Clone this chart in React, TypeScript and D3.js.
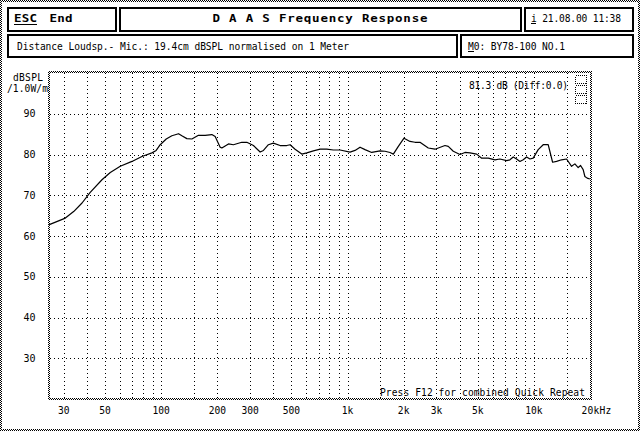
import React from 'react';
import * as d3 from 'd3';

// Measured frequency response (Hz, dB SPL)
const freqHz = [
  25.1, 30.6, 33.9, 37.6, 41.6, 48.1, 53.3, 60.3, 69.7, 78.8,
  89.2, 94.0, 98.8, 106.4, 114.1, 123.9, 129.1, 137.3, 146.1, 158.5,
  172.1, 187.0, 194.8, 207.2, 211.6, 229.6, 244.1, 270.8, 288.0, 312.6,
  339.6, 353.7, 376.1, 400.0, 434.5, 472.0, 491.6, 523.0, 568.0, 604.1,
  655.7, 712.4, 773.7, 839.1, 911.7, 1031, 1097, 1167, 1241, 1348,
  1494, 1589, 1690, 1761, 1873, 2009, 2163, 2301, 2447, 2712,
  2946, 3333, 3471, 3693, 4010, 4266, 4538, 4930, 5244, 5689,
  6179, 6572, 7139, 7435, 7745, 8076, 8412, 8763, 9140, 9520,
  9913, 10545, 11217, 11931, 12600, 13232, 14077, 14974, 15928, 16591,
  17281, 17802, 18381, 18774, 19313, 19970,
];
const splDb = [
  62.8, 64.4, 66.0, 68.1, 70.7, 73.8, 75.6, 77.1, 78.3, 79.5,
  80.4, 81.0, 82.4, 83.8, 84.6, 85.1, 84.6, 83.9, 83.8, 84.7,
  84.7, 84.9, 84.4, 81.8, 81.6, 82.6, 82.4, 83.0, 83.0, 82.2,
  80.6, 81.0, 82.4, 82.8, 82.2, 82.2, 82.4, 81.3, 80.1, 80.4,
  80.9, 81.3, 81.3, 81.1, 81.1, 80.6, 81.0, 81.8, 81.2, 80.5,
  80.9, 80.8, 80.5, 80.1, 82.0, 84.0, 83.2, 83.0, 83.0, 81.6,
  81.3, 82.2, 82.0, 80.8, 80.0, 80.5, 80.4, 80.1, 79.1, 79.1,
  78.7, 78.9, 78.5, 78.7, 79.4, 78.9, 78.3, 78.7, 79.4, 78.9,
  79.1, 81.2, 82.4, 82.4, 78.1, 78.3, 78.7, 78.9, 77.1, 77.7,
  76.8, 77.3, 76.3, 74.6, 74.2, 74.0,
];

const yTicks = [30, 40, 50, 60, 70, 80, 90];
const gridFreqs = [30, 40, 50, 60, 70, 80, 90, 100, 150, 200, 300, 400, 500, 600, 700, 800, 900,
  1000, 1500, 2000, 3000, 4000, 5000, 6000, 7000, 8000, 9000, 10000, 15000];
const xTickValues = [30, 50, 100, 200, 300, 500, 1000, 2000, 3000, 5000, 10000];
const xTickLabels = ['30', '50', '100', '200', '300', '500', '1k', '2k', '3k', '5k', '10k'];

const MONO = '"DejaVu Sans Mono", "Liberation Mono", monospace';

export default function App() {
  const x = d3.scaleLog().domain([25, 20000]).range([49, 590]);
  const y = d3.scaleLinear().domain([20, 100]).range([399, 73]);
  const line = d3.line<number>()
    .x((_, i) => x(freqHz[i]))
    .y((d) => y(d))
    .curve(d3.curveLinear);
  const px = (v: number) => Math.round(v) + 0.5;

  const box = (bx: number, by: number, bw: number, bh: number, key: string) => (
    <rect key={key} x={bx + 1} y={by + 1} width={bw - 2} height={bh - 2} fill="#fff" stroke="#000" strokeWidth={2} />
  );
  const txt = (s: string, tx: number, ty: number, len?: number, extra: any = {}) => (
    <text x={tx} y={ty} fontFamily={MONO} fontSize={9.6} fill="#000"
      textLength={len} lengthAdjust={len ? 'spacing' : undefined} {...extra}>{s}</text>
  );
  const bold = (s: string, tx: number, ty: number, len: number) => (
    <text transform={`translate(${tx},${ty}) scale(1.25,1)`} x={0} y={0} fontFamily={MONO} fontSize={10}
      fontWeight="bold" textLength={len / 1.25} lengthAdjust="spacing">{s}</text>
  );

  return (
    <svg width={640} height={431} style={{ position: 'absolute', left: 0, top: 0, background: '#fff' }}>
      <defs>
        <pattern id="dith" width={2} height={2} patternUnits="userSpaceOnUse">
          <rect x={0} y={0} width={1} height={1} fill="#000" />
          <rect x={1} y={1} width={1} height={1} fill="#000" />
        </pattern>
      </defs>
      <rect x={0} y={0} width={640} height={431} fill="#fff" />
      {/* outer dithered frame */}
      <rect x={0} y={0} width={640} height={2} fill="url(#dith)" />
      <rect x={0} y={429} width={640} height={2} fill="url(#dith)" />
      <rect x={0} y={0} width={2} height={431} fill="url(#dith)" />
      <rect x={638} y={0} width={2} height={431} fill="url(#dith)" />

      {/* header boxes */}
      {box(7, 7, 110, 25, 'a')}
      {box(119, 7, 403, 25, 'b')}
      {box(524, 7, 110, 25, 'c')}
      {box(7, 34, 451, 24, 'd')}
      {box(460, 34, 174, 24, 'e')}

      {bold('ESC', 14, 22, 23)}
      <rect x={14} y={24} width={23} height={1} fill="#000" />
      {bold('End', 49.5, 22, 23)}
      {bold('D A A S  Frequency Response', 212.5, 22, 215)}
      {txt('i 21.08.00 11:38', 531, 21.5, 90)}
      <rect x={531} y={23} width={5} height={1} fill="#000" />
      {txt('Distance Loudsp.- Mic.: 19.4cm dBSPL normalised on 1 Meter', 17, 49.5, 332)}
      {txt('M0: BY78-100 NO.1', 468, 49.5, 97)}
      <rect x={468} y={51} width={6} height={1} fill="#000" />

      {/* grid */}
      {yTicks.map((t) => (
        <line key={'h' + t} x1={50} x2={590} y1={px(y(t))} y2={px(y(t))} stroke="#000" strokeWidth={1} strokeDasharray="1 3" shapeRendering="crispEdges" />
      ))}
      {gridFreqs.map((f) => (
        <line key={'v' + f} x1={px(x(f))} x2={px(x(f))} y1={73} y2={398} stroke="#000" strokeWidth={1} strokeDasharray="1 3" shapeRendering="crispEdges" />
      ))}

      {/* plot dithered border */}
      <rect x={48} y={71} width={544} height={2} fill="url(#dith)" />
      <rect x={48} y={398} width={544} height={2} fill="url(#dith)" />
      <rect x={48} y={71} width={2} height={329} fill="url(#dith)" />
      <rect x={590} y={71} width={2} height={329} fill="url(#dith)" />

      {/* y labels */}
      {txt('dBSPL', 13, 81, 30)}
      {txt('/1.0W/m', 7, 92, 41)}
      {yTicks.map((t) => (
        <text key={'yl' + t} x={35.5} y={y(t) + 3.5} textAnchor="end" fontFamily={MONO} fontSize={10}>{t}</text>
      ))}
      {/* x labels */}
      {xTickValues.map((f, i) => (
        <text key={'xl' + f} x={x(f)} y={413.5} textAnchor="middle" fontFamily={MONO} fontSize={9.6}>{xTickLabels[i]}</text>
      ))}
      <text x={x(20000) - 8.6} y={413.5} fontFamily={MONO} fontSize={9.6} textLength={30} lengthAdjust="spacing">20kHz</text>

      {/* info */}
      {txt('81.3 dB (Diff:0.0)', 469, 89.3, 99)}
      {[75, 85, 95].map((iy) => (
        <rect key={'ic' + iy} x={575.5} y={iy + 0.5} width={11} height={8} fill="none" stroke="#000" strokeWidth={1} strokeDasharray="1 1" shapeRendering="crispEdges" />
      ))}
      {txt('Press F12 for combined Quick Repeat', 380, 396, 205)}

      {/* curve */}
      <path d={line(splDb) || ''} fill="none" stroke="#000" strokeWidth={1.2} strokeLinejoin="round" />
    </svg>
  );
}
